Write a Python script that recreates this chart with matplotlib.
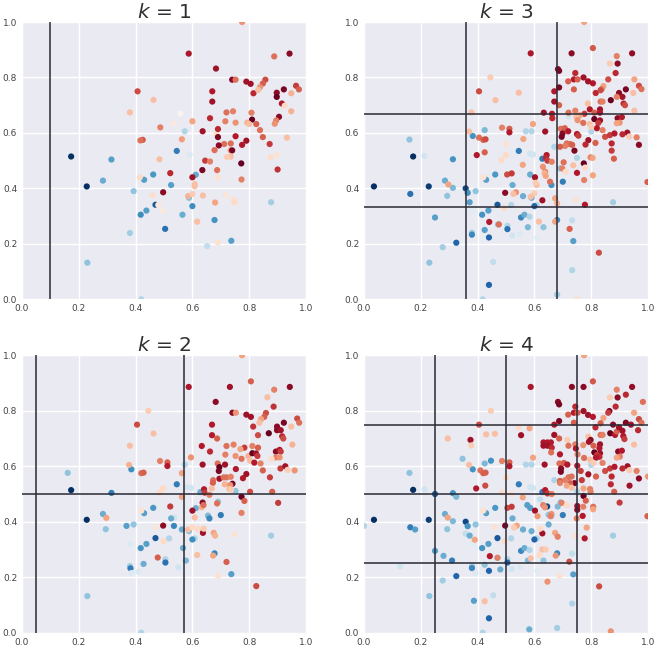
import matplotlib
matplotlib.use("Agg")
import matplotlib.pyplot as plt

# Each sample: (x, y, signed response on the RdBu_r scale)
k1_samples = [
    (.173,.515,-1),(.228,.407,-1),(.230,.132,-.4),(.285,.428,-.5),(.315,.504,-.55),(.380,.239,-.35),
    (.393,.390,-.4),(.418,.305,-.62),(.430,.431,-.55),(.438,.320,-.55),(.462,.450,-.58),(.470,.341,-.85),
    (.504,.254,-.75),(.525,.412,-.55),(.545,.535,-.7),(.565,.305,-.5),(.573,.606,-.3),(.588,.366,-.42),
    (.600,.336,-.62),(.612,.449,-.52),(.678,.286,-.6),(.737,.211,-.55),(.877,.350,-.35),(.652,.192,-.25),
    (.420,.0,-.3),(.590,.522,-.15),(.558,.67,.02),
    (.587,.886,.82),(.407,.750,.65),(.380,.674,.3),(.463,.719,.3),(.425,.575,.62),(.417,.573,.55),
    (.487,.620,.5),(.484,.505,.3),(.522,.455,.75),(.497,.386,.9),(.563,.577,.42),(.600,.642,.4),
    (.636,.606,.85),(.662,.653,.75),(.670,.750,.8),(.670,.713,.85),(.683,.832,.85),(.740,.792,.9),
    (.752,.792,.55),(.790,.785,.85),(.805,.777,.85),(.815,.743,.75),(.857,.792,.65),(.848,.778,.6),
    (.838,.765,.45),(.832,.755,.3),(.888,.876,.55),(.942,.886,.9),(.897,.745,.9),(.897,.730,1),
    (.922,.757,.95),(.965,.770,.7),(.975,.757,.6),(.948,.743,.35),(.915,.706,.8),(.925,.698,.2),
    (.948,.678,.35),(.905,.658,.9),(.895,.645,.5),(.890,.633,.45),(.810,.648,1),(.808,.673,.5),
    (.720,.674,.55),(.743,.678,.5),(.716,.642,.5),(.752,.637,.45),(.793,.637,.35),(.800,.632,.3),
    (.825,.632,.6),(.838,.610,.55),(.685,.597,.2),(.690,.614,.75),(.690,.585,.95),(.752,.588,.8),
    (.790,.572,.85),(.848,.585,.6),(.872,.560,.7),(.933,.583,.3),(.712,.560,.55),(.735,.562,.55),
    (.693,.555,.9),(.775,.557,.8),(.678,.538,.55),(.735,.537,.45),(.740,.537,.95),(.735,.515,.3),
    (.722,.513,.25),(.645,.500,.7),(.662,.497,.5),(.772,.490,1),(.635,.466,.95),(.687,.466,.55),
    (.900,.468,.72),(.875,.512,.18),(.896,.52,.15),(.600,.44,.85),(.608,.415,.3),(.608,.408,.3),
    (.773,.432,.5),(.585,.372,.35),(.600,.38,.25),(.637,.374,.3),(.680,.349,.4),(.745,.36,.15),
    (.748,.35,.2),(.72,.375,.12),(.617,.28,.3),(.690,.205,.15),(.415,.44,.2),(.46,.375,.18),
    (.48,.34,.12),(.495,.32,.1),(.535,.635,.1),(.69,.44,.15),(.775,1.0,.45),
]

k2_samples = [
    (.161,.576,-.4),(.173,.514,-1),(.228,.407,-1),(.230,.132,-.4),(.285,.428,-.5),(.297,.414,.4),
    (.295,.373,-.4),(.315,.504,-.7),(.368,.385,-.55),(.393,.39,-.4),(.385,.589,-.62),(.380,.24,-.35),
    (.382,.232,-.7),(.418,.305,-.6),(.428,.248,-.5),(.430,.431,-.55),(.438,.32,-.55),(.462,.45,-.58),
    (.470,.341,-.85),(.505,.265,-.3),(.505,.253,-.75),(.518,.34,-.3),(.537,.415,-.2),(.525,.412,-.5),
    (.535,.385,-.65),(.545,.535,-.7),(.563,.372,-.5),(.567,.305,-.5),(.573,.606,-.3),(.577,.26,-.45),
    (.588,.366,-.42),(.608,.34,-.3),(.600,.336,-.62),(.628,.507,-.5),(.612,.449,-.5),(.655,.422,-.45),
    (.660,.412,-.65),(.69,.472,-.4),(.70,.424,-.7),(.678,.286,-.65),(.737,.211,-.55),(.752,.511,-.4),
    (.877,.35,-.35),(.42,.0,-.3),(.55,.235,-.2),(.38,.32,-.15),(.385,.215,-.15),(.41,.22,-.15),
    (.58,.525,-.2),(.595,.522,-.2),
    (.587,.886,.82),(.732,.886,.85),(.806,.906,.6),(.888,.876,.5),(.943,.886,.9),(.864,.849,.3),
    (.886,.815,.72),(.682,.832,.9),(.741,.793,.9),(.753,.793,.45),(.790,.786,.85),(.806,.778,.85),
    (.859,.792,.65),(.853,.778,.6),(.842,.77,.4),(.836,.757,.3),(.669,.750,.8),(.669,.712,.8),
    (.687,.700,.6),(.814,.743,.72),(.831,.712,.65),(.922,.757,.95),(.969,.772,.65),(.976,.757,.55),
    (.948,.743,.3),(.869,.719,1),(.898,.743,.9),(.898,.730,.9),(.911,.73,.85),(.916,.708,.75),
    (.92,.70,.65),(.952,.678,.35),(.633,.673,.8),(.72,.673,.55),(.745,.678,.5),(.783,.667,.7),
    (.769,.662,.4),(.811,.673,.5),(.831,.667,.6),(.662,.653,.75),(.716,.642,.5),(.752,.637,.45),
    (.773,.627,.55),(.797,.637,.35),(.803,.62,.3),(.811,.647,1),(.824,.646,.85),(.829,.637,.7),
    (.818,.613,.8),(.84,.61,.5),(.894,.653,.9),(.907,.659,.8),(.911,.653,.7),(.894,.632,.5),
    (.907,.632,.45),(.879,.627,.2),(.486,.619,.5),(.512,.614,.6),(.512,.601,.8),(.595,.632,.45),
    (.636,.606,.85),(.689,.61,.55),(.715,.606,.85),(.695,.597,1),(.693,.583,.95),(.753,.59,.8),
    (.778,.557,.8),(.79,.572,.85),(.848,.585,.6),(.91,.592,.7),(.927,.6,.85),(.935,.587,.25),
    (.96,.585,.45),(.873,.56,.7),(.695,.555,.85),(.71,.56,.55),(.72,.56,.55),(.735,.562,.5),
    (.673,.55,.55),(.672,.54,.6),(.714,.535,.35),(.741,.537,.95),(.733,.532,.45),(.73,.518,.3),
    (.736,.515,.25),(.641,.517,.8),(.643,.505,.7),(.66,.497,.5),(.668,.52,.3),(.803,.508,.65),
    (.881,.508,.6),(.773,.49,1),(.783,.475,.6),(.636,.469,.9),(.633,.452,.35),(.639,.46,.55),
    (.687,.466,.55),(.902,.468,.7),(.522,.455,.7),(.6,.44,.85),(.497,.52,.2),(.485,.505,.2),
    (.563,.49,.4),(.463,.718,.3),(.405,.75,.65),(.38,.674,.3),(.377,.605,.35),(.445,.8,.25),
    (.42,.575,.55),(.428,.577,.6),(.497,.386,.9),(.478,.271,.6),(.498,.33,.2),(.42,.44,.15),
    (.563,.575,.4),(.608,.415,.3),(.62,.375,.2),(.585,.372,.3),(.637,.36,.85),(.675,.36,.4),
    (.68,.35,.35),(.748,.355,.15),(.773,.432,.5),(.617,.28,.3),(.673,.278,.4),(.72,.255,.6),
    (.825,.168,.65),(.69,.205,.15),(.60,.38,.2),(.64,.375,.25),(.775,1.0,.4),(.47,.38,.12),
]

k3_samples = [
    (.035,.407,-1),(.163,.38,-.75),(.16,.576,-.4),(.173,.515,-1),(.213,.517,-.2),(.228,.407,-.95),
    (.23,.132,-.4),(.25,.295,-.55),(.277,.188,-.35),(.285,.428,-.5),(.293,.373,-.4),(.313,.402,-.45),
    (.313,.505,-.6),(.325,.204,-.8),(.358,.4,-.9),(.365,.384,-.6),(.372,.35,-.55),(.38,.24,-.35),
    (.38,.233,-.65),(.383,.589,-.6),(.393,.39,-.4),(.38,.32,-.12),(.416,.305,-.6),(.425,.61,-.45),
    (.43,.431,-.55),(.438,.32,-.55),(.44,.223,-.8),(.425,.25,-.55),(.418,.0,-.3),(.44,.052,-.8),
    (.455,.135,-.25),(.462,.45,-.58),(.47,.341,-.85),(.472,.27,-.4),(.505,.265,-.3),(.505,.253,-.75),
    (.518,.34,-.3),(.523,.412,-.5),(.522,.23,-.2),(.55,.235,-.15),(.545,.535,-.7),(.56,.372,-.5),
    (.553,.295,-.65),(.565,.305,-.5),(.57,.606,-.3),(.577,.26,-.45),(.583,.298,-.3),(.585,.525,-.2),
    (.595,.522,-.2),(.585,.45,-.5),(.59,.366,-.5),(.608,.34,-.3),(.6,.336,-.8),(.61,.222,-.12),
    (.628,.507,-.7),(.632,.26,-.4),(.59,.606,-.3),(.68,.286,-.65),(.733,.285,-.25),(.737,.21,-.55),
    (.733,.105,-.3),(.68,.017,-.35),(.877,.35,-.35),(.70,.424,-.7),(.69,.472,-.4),(.75,.51,-.3),
    (.80,.605,-.3),(.66,.412,-.6),(.67,.55,-.3),(.72,.66,-.2),
    (.587,.887,.82),(.731,.887,.9),(.806,.906,.62),(.89,.877,.5),(.944,.887,.88),(.866,.85,.25),
    (.893,.85,.9),(.886,.816,.75),(.683,.83,.9),(.687,.824,.95),(.744,.816,.75),(.719,.786,.6),
    (.739,.793,.8),(.752,.793,.6),(.773,.8,.85),(.789,.786,.85),(.806,.779,.8),(.86,.793,.65),
    (.843,.769,.4),(.837,.758,.5),(.952,.793,.4),(.968,.77,.65),(.977,.758,.55),(.67,.75,.8),
    (.687,.764,.95),(.739,.757,.6),(.816,.744,.75),(.833,.754,.65),(.922,.757,.95),(.948,.744,.3),
    (.898,.744,.9),(.91,.73,.85),(.89,.73,.5),(.869,.718,1),(.914,.706,.75),(.919,.70,.65),
    (.67,.713,.85),(.687,.7,.6),(.788,.706,.3),(.833,.713,.55),(.84,.713,.5),(.952,.68,.3),
    (.633,.673,.85),(.662,.669,.8),(.663,.653,.75),(.72,.673,.55),(.744,.68,.5),(.795,.685,.8),
    (.811,.673,.6),(.831,.685,.85),(.831,.673,.8),(.776,.669,.7),(.76,.664,.4),(.747,.658,.3),
    (.893,.653,.9),(.908,.657,.8),(.90,.637,.45),(.89,.635,.4),(.811,.65,1),(.831,.645,.85),
    (.825,.636,.7),(.82,.617,.8),(.752,.646,.45),(.772,.636,.55),(.795,.632,.3),(.8,.622,.25),
    (.84,.61,.5),(.486,.619,.5),(.512,.615,.6),(.512,.602,.8),(.595,.632,.4),(.638,.605,.85),
    (.693,.615,.55),(.707,.617,.6),(.719,.606,.8),(.699,.598,.9),(.696,.586,.95),(.75,.596,.8),
    (.755,.59,.7),(.79,.574,.85),(.78,.558,.75),(.815,.564,.6),(.849,.586,.65),(.866,.592,.7),
    (.882,.598,.8),(.927,.601,.85),(.91,.595,.75),(.934,.587,.25),(.96,.584,.5),(.872,.562,.75),
    (.968,.557,.9),(.714,.562,.55),(.725,.56,.55),(.708,.553,.5),(.69,.55,.6),(.741,.536,.95),
    (.733,.557,.6),(.872,.536,.7),(.561,.578,.4),(.50,.56,.15),(.798,.512,.5),(.88,.507,.6),
    (.643,.52,.8),(.641,.51,.75),(.445,.8,.25),(.405,.75,.65),(.463,.718,.3),(.545,.745,.3),
    (.378,.674,.3),(.37,.605,.3),(.405,.583,.55),(.42,.575,.6),(.428,.577,.65),(.397,.52,.8),
    (.425,.53,.6),(.484,.502,.2),(.499,.52,.2),(.559,.485,.4),(.504,.45,.65),(.52,.454,.7),
    (.63,.478,.45),(.638,.46,.5),(.602,.44,.85),(.608,.412,.3),(.497,.384,.9),(.535,.386,.45),
    (.526,.38,.3),(.628,.357,.85),(.673,.364,.4),(.68,.346,.35),(.6,.382,.25),(.587,.37,.3),
    (.778,.341,.8),(.746,.358,.15),(.441,.279,.8),(.475,.27,.55),(.494,.33,.2),(.724,.254,.6),
    (.673,.28,.4),(.616,.28,.3),(.827,.168,.65),(.297,.414,.4),(.42,.44,.15),(.646,.5,.7),
    (.661,.496,.5),(.703,.494,.55),(.698,.472,.5),(.75,.456,.8),(.737,.483,.3),(.774,.49,1),
    (.805,.51,.4),(.806,.447,.4),(.775,.43,.5),(.778,.475,.2),(.71,.46,.2),(.636,.455,.35),
    (.64,.445,.4),(.604,.42,.25),(.655,.424,.55),(.775,1.0,.4),(.75,.0,.15),(.998,.423,.6),
]

k4_samples = [
    (.0,.385,-.3),(.035,.407,-1),(.127,.24,-.2),(.163,.38,-.7),(.18,.372,-.55),(.16,.576,-.4),
    (.173,.515,-1),(.213,.517,-.2),(.228,.407,-.95),(.23,.132,-.4),(.25,.5,-.85),(.25,.295,-.55),
    (.277,.188,-.35),(.28,.277,-.5),(.285,.428,-.5),(.293,.373,-.4),(.31,.26,-.7),(.313,.402,-.45),
    (.313,.503,-.6),(.325,.49,-.45),(.325,.204,-.8),(.347,.627,-.4),(.358,.4,-.9),(.358,.357,-.25),
    (.365,.384,-.6),(.372,.35,-.5),(.38,.24,-.35),(.38,.233,-.65),(.383,.589,-.6),(.387,.115,-.55),
    (.393,.39,-.4),(.38,.32,-.12),(.393,.215,-.15),(.416,.305,-.6),(.425,.61,-.45),(.43,.431,-.55),
    (.438,.32,-.55),(.44,.223,-.8),(.425,.245,-.4),(.418,.0,-.3),(.44,.052,-.8),(.455,.135,-.25),
    (.447,.62,-.6),(.462,.45,-.58),(.47,.341,-.85),(.47,.27,-.4),(.48,.228,-.5),(.505,.265,-.3),
    (.505,.253,-.8),(.518,.34,-.3),(.523,.412,-.5),(.52,.23,-.2),(.55,.235,-.15),(.545,.535,-.7),
    (.56,.372,-.5),(.553,.295,-.65),(.565,.305,-.5),(.57,.606,-.3),(.577,.26,-.45),(.583,.298,-.3),
    (.585,.525,-.2),(.595,.522,-.2),(.575,.46,-.55),(.585,.45,-.55),(.582,.012,-.5),(.59,.366,-.5),
    (.608,.34,-.3),(.6,.336,-.8),(.61,.222,-.12),(.628,.507,-.7),(.62,.48,-.25),(.632,.26,-.4),
    (.59,.606,-.3),(.65,.425,-.4),(.645,.455,-.9),(.65,.39,-.5),(.68,.286,-.65),(.682,.455,-.45),
    (.692,.47,-.4),(.70,.424,-.7),(.733,.285,-.25),(.737,.21,-.55),(.733,.105,-.3),(.68,.017,-.35),
    (.877,.35,-.35),(.75,.51,-.3),(.80,.605,-.3),(.67,.55,-.3),(.66,.42,-.3),
    (.587,.886,.82),(.732,.886,.9),(.773,.886,.9),(.806,.906,.62),(.89,.876,.5),(.944,.886,.88),
    (.982,.832,.55),(.866,.848,.25),(.893,.848,.9),(.922,.858,.75),(.886,.815,.75),(.951,.793,.4),
    (.683,.832,.9),(.687,.823,.95),(.744,.815,.75),(.719,.786,.6),(.739,.793,.8),(.752,.793,.6),
    (.773,.799,.85),(.789,.785,.85),(.806,.778,.8),(.864,.799,.95),(.86,.793,.7),(.843,.774,.4),
    (.833,.755,.6),(.968,.77,.65),(.977,.757,.55),(.67,.75,.8),(.687,.763,.95),(.739,.757,.6),
    (.815,.74,.75),(.877,.75,.9),(.922,.757,.95),(.94,.75,.85),(.965,.73,.75),(.545,.74,.2),
    (.583,.737,.4),(.553,.712,.85),(.461,.717,.3),(.447,.8,.25),(.67,.713,.85),(.687,.7,.6),
    (.716,.695,.25),(.79,.707,.3),(.833,.713,.55),(.84,.713,.5),(.798,.695,.9),(.792,.688,.85),
    (.867,.719,1),(.884,.713,.8),(.89,.725,.6),(.898,.74,.85),(.91,.728,.85),(.913,.709,.8),
    (.917,.698,.7),(.951,.678,.3),(.632,.686,.8),(.646,.686,.8),(.658,.686,.8),(.632,.674,.85),
    (.646,.674,.85),(.661,.667,.75),(.659,.65,.55),(.72,.674,.55),(.744,.679,.5),(.746,.664,.8),
    (.772,.676,.45),(.808,.674,.6),(.831,.679,.85),(.829,.665,.8),(.811,.65,1),(.831,.647,.85),
    (.82,.64,.7),(.829,.634,.75),(.817,.631,.8),(.752,.643,.5),(.775,.63,.55),(.796,.624,.3),
    (.808,.612,.25),(.84,.612,.5),(.895,.653,.9),(.908,.656,.8),(.901,.635,.5),(.89,.631,.4),
    (.486,.619,.5),(.512,.614,.6),(.512,.6,.8),(.595,.631,.4),(.636,.606,.85),(.69,.643,.8),
    (.688,.61,.55),(.704,.612,.6),(.716,.606,.8),(.694,.592,.9),(.693,.58,.95),(.751,.602,.8),
    (.763,.583,.7),(.79,.571,.85),(.849,.583,.65),(.866,.592,.7),(.882,.598,.8),(.928,.6,.85),
    (.91,.592,.75),(.934,.586,.25),(.96,.583,.5),(.872,.563,.75),(1.0,.563,.45),(.968,.556,.9),
    (.72,.56,.55),(.731,.563,.55),(.708,.55,.5),(.69,.547,.6),(.741,.539,.95),(.726,.539,.6),
    (.714,.53,.4),(.731,.523,.3),(.69,.54,.5),(.869,.535,.75),(.935,.53,.85),(.796,.518,.5),
    (.767,.55,.7),(.817,.563,.6),(.773,.52,.4),(.881,.508,.6),(.638,.514,.8),(.646,.502,.7),
    (.661,.5,.5),(.486,.505,.2),(.559,.488,.4),(.773,.493,1),(.781,.476,.6),(.798,.508,.5),
    (.9,.469,.7),(.505,.45,.65),(.52,.454,.7),(.602,.44,.85),(.611,.42,.45),(.631,.46,.5),
    (.637,.452,.45),(.696,.468,.5),(.714,.46,.2),(.751,.457,.85),(.751,.443,.9),(.749,.412,.5),
    (.772,.454,.5),(.77,.421,.8),(.807,.454,.55),(.807,.445,.4),(.784,.379,.4),(.777,.34,.8),
    (.66,.428,.45),(.657,.42,.5),(.998,.42,.6),(.497,.386,.95),(.538,.386,.4),(.528,.379,.25),
    (.628,.358,.85),(.673,.36,.4),(.682,.346,.5),(.675,.278,.45),(.628,.3,.3),(.587,.268,.3),
    (.618,.28,.2),(.723,.256,.65),(.646,.184,.45),(.688,.204,.15),(.828,.167,.65),(.869,.005,.45),
    (.443,.276,.8),(.295,.7,.3),(.375,.695,.85),(.378,.675,.25),(.37,.605,.3),(.41,.585,.55),
    (.42,.575,.6),(.428,.577,.6),(.395,.52,.8),(.427,.53,.65),(.295,.415,.4),(.39,.335,.4),
    (.425,.113,.3),(.405,.75,.65),(.43,.715,.3),(.47,.27,.5),(.495,.33,.2),(.42,.44,.15),
    (.46,.38,.15),(.5,.56,.2),(.52,.5,.15),(.62,.375,.2),(.64,.30,.25),(.745,.35,.15),(.775,1.0,.4),
]

# Cut positions per panel
k1_vlines, k1_hlines = [0.1], []
k2_vlines, k2_hlines = [0.05, 0.57], [0.5]
k3_vlines, k3_hlines = [0.358, 0.68], [0.334, 0.667]
k4_vlines, k4_hlines = [0.25, 0.5, 0.75], [0.25, 0.5, 0.75]

tick_values = [0.0, 0.2, 0.4, 0.6, 0.8, 1.0]

WIDTH, HEIGHT = 659, 650
fig = plt.figure(figsize=(WIDTH / 100, HEIGHT / 100), dpi=100, facecolor="white")


def draw_panel(box, k, samples, vlines, hlines):
    left, top, right, bottom = box
    ax = fig.add_axes([left / WIDTH, 1 - bottom / HEIGHT,
                       (right - left) / WIDTH, (bottom - top) / HEIGHT])
    ax.set_facecolor("#EAEAF2")
    ax.grid(True, color="white", linewidth=1.0, zorder=0)
    ax.set_axisbelow(True)
    for spine in ax.spines.values():
        spine.set_visible(False)

    xs = [s[0] for s in samples]
    ys = [s[1] for s in samples]
    cs = [s[2] for s in samples]
    ax.scatter(xs, ys, c=cs, cmap="RdBu_r", vmin=-1, vmax=1, s=20, linewidths=0, zorder=2)
    for v in vlines:
        ax.axvline(v, color="#2a2a35", linewidth=1.3, alpha=0.85, zorder=3)
    for h in hlines:
        ax.axhline(h, color="#2a2a35", linewidth=1.3, alpha=0.85, zorder=3)

    ax.set_xlim(0, 1)
    ax.set_ylim(0, 1)
    ax.set_xticks(tick_values)
    ax.set_yticks(tick_values)
    ax.set_xticklabels([f"{t:.1f}" for t in tick_values])
    ax.set_yticklabels([f"{t:.1f}" for t in tick_values])
    ax.tick_params(length=0, labelsize=6.5, labelcolor="#444444", pad=3.5)
    ax.set_title(f"$k$ = {k}", fontsize=14.5, color="#303030", pad=3)


draw_panel((22, 22, 306, 299.3), 1, k1_samples, k1_vlines, k1_hlines)
draw_panel((364, 22, 648, 299.3), 3, k3_samples, k3_vlines, k3_hlines)
draw_panel((22, 355.3, 306, 632.7), 2, k2_samples, k2_vlines, k2_hlines)
draw_panel((364, 355.3, 648, 632.7), 4, k4_samples, k4_vlines, k4_hlines)

fig.savefig("out.png", dpi=100)
